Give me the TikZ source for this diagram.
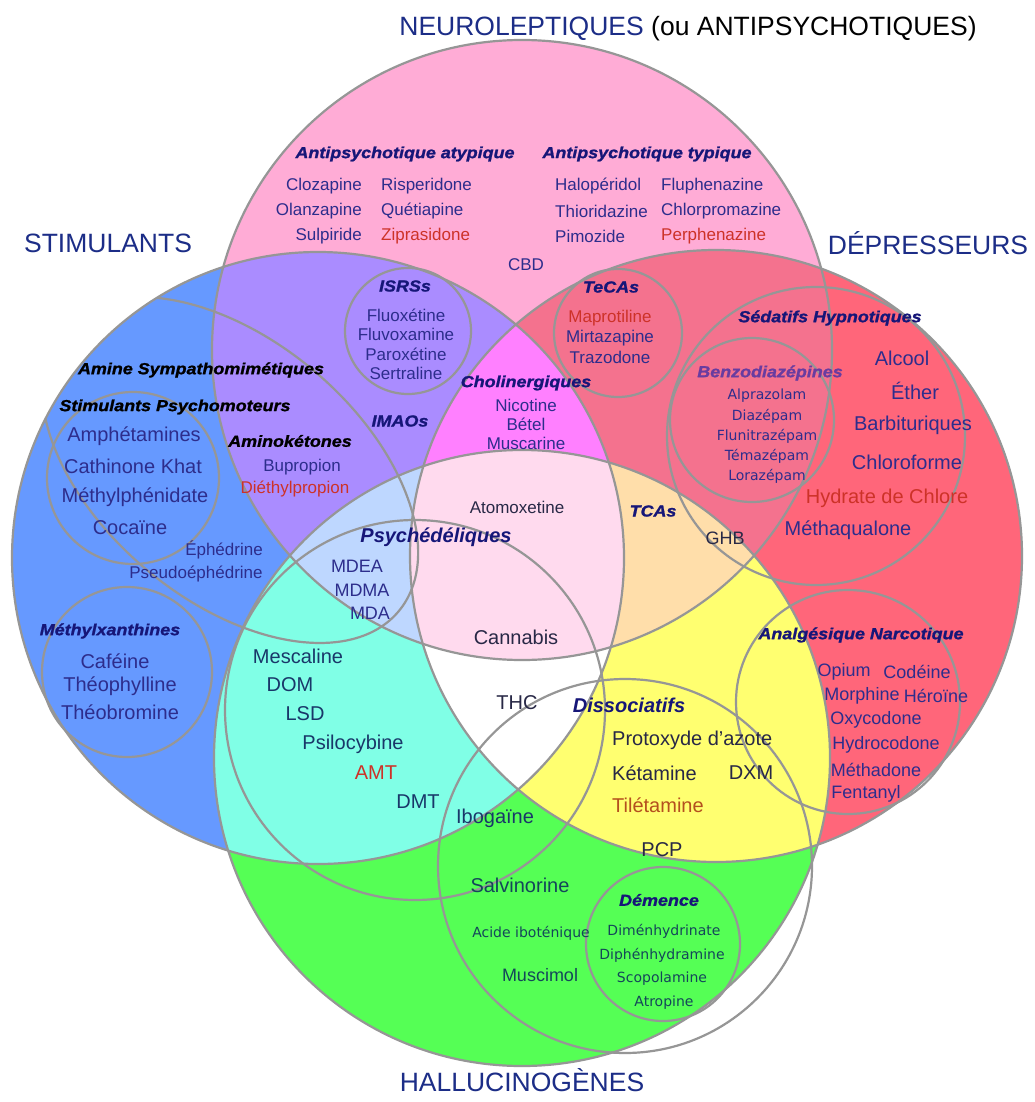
\documentclass[tikz,border=0pt]{standalone}
\usepackage{fontspec}
\setmainfont{Liberation Sans}
\newfontfamily\dvs{DejaVu Sans}
\newfontfamily\hdf[FakeStretch=1.12,FakeBold=1.2]{Liberation Sans}
\definecolor{cPk}{RGB}{255,172,214}
\definecolor{cBl}{RGB}{102,153,255}
\definecolor{cRd}{RGB}{255,102,122}
\definecolor{cGr}{RGB}{85,255,85}
\definecolor{cPB}{RGB}{170,140,255}
\definecolor{cPR}{RGB}{244,114,142}
\definecolor{cPG}{RGB}{255,218,238}
\definecolor{cBR}{RGB}{255,255,255}
\definecolor{cBG}{RGB}{128,255,230}
\definecolor{cRG}{RGB}{255,255,112}
\definecolor{cPBR}{RGB}{255,128,255}
\definecolor{cPBG}{RGB}{190,215,255}
\definecolor{cPRG}{RGB}{255,222,170}
\definecolor{cBRG}{RGB}{255,255,255}
\definecolor{cAll}{RGB}{255,218,238}
\definecolor{lnc}{RGB}{150,150,150}
\definecolor{ttl}{RGB}{28,45,135}
\definecolor{itc}{RGB}{45,45,140}
\definecolor{hdc}{RGB}{22,22,120}
\definecolor{rdc}{RGB}{205,50,40}
\definecolor{dkc}{RGB}{40,40,70}
\definecolor{tlc}{RGB}{25,55,105}
\definecolor{gnc}{RGB}{20,70,90}
\definecolor{prc}{RGB}{105,60,160}
\definecolor{orc}{RGB}{180,80,30}
\newcommand\cirP{(522,350) circle[radius=310pt]}
\newcommand\cirB{(318,558) circle[radius=306pt]}
\newcommand\cirR{(716,556) circle[radius=306pt]}
\newcommand\cirG{(522,758) circle[radius=308pt]}
\begin{document}
\begin{tikzpicture}[x=1pt,y=-1pt,
  ln/.style={draw=lnc,line width=2.2pt},
  ttlbox/.style={font=\fontsize{26.5}{28}\selectfont,text=ttl,inner sep=0pt},
  hd/.style={font=\hdf\fontsize{16}{18}\selectfont\bfseries\itshape,text=hdc,inner sep=0pt},
  bighd/.style={font=\fontsize{20}{22}\selectfont\bfseries\itshape,text=hdc,inner sep=0pt},
  it/.style={font=\fontsize{17}{18}\selectfont,text=itc,inner sep=0pt},
  itm/.style={font=\fontsize{18}{20}\selectfont,text=itc,inner sep=0pt},
  itl/.style={font=\fontsize{20}{22}\selectfont,text=itc,inner sep=0pt},
  dv/.style={font=\dvs\fontsize{14}{16}\selectfont,text=itc,inner sep=0pt},
]
\useasboundingbox (0,0) rectangle (1034,1102);
\fill[white] (0,0) rectangle (1034,1102);
% single fills
\fill[cPk] \cirP; \fill[cBl] \cirB; \fill[cRd] \cirR; \fill[cGr] \cirG;
% pairs
\begin{scope}\clip \cirP; \fill[cPB] \cirB; \fill[cPR] \cirR; \fill[cPG] \cirG; \end{scope}
\begin{scope}\clip \cirB; \fill[cBR] \cirR; \fill[cBG] \cirG; \end{scope}
\begin{scope}\clip \cirR; \fill[cRG] \cirG; \end{scope}
% triples
\begin{scope}\clip \cirP; \clip \cirB; \fill[cPBR] \cirR; \fill[cPBG] \cirG; \end{scope}
\begin{scope}\clip \cirP; \clip \cirR; \fill[cPRG] \cirG; \end{scope}
\begin{scope}\clip \cirB; \clip \cirR; \fill[cBRG] \cirG; \end{scope}
% all four
\begin{scope}\clip \cirP; \clip \cirB; \clip \cirR; \fill[cAll] \cirG; \end{scope}
% outlines of the four classes
\draw[ln] \cirP; \draw[ln] \cirB; \draw[ln] \cirR; \draw[ln] \cirG;
% sub-class circles
\draw[ln] (408,331) circle[radius=63pt];   % ISRSs
\draw[ln] (618,333) circle[radius=64pt];   % TeCAs
\draw[ln] (816,436) circle[radius=149pt];  % sedatifs
\draw[ln] (752,420) circle[radius=82pt];   % benzo
\draw[ln] (133,478) circle[radius=86pt];   % psychomoteurs
\draw[ln] (127,672) circle[radius=85pt];   % methylxanthines
\begin{scope}
  \clip \cirB;
  \begin{scope}[rotate around={-40:(230,470)}]
    \draw[ln] (230,470) ellipse[x radius=220pt, y radius=130pt]; % amines
  \end{scope}
\end{scope}
\draw[ln] (415,710) circle[radius=190pt];  % psychedeliques
\draw[ln] (625,866) circle[radius=187pt];  % dissociatifs
\draw[ln] (848,702) circle[radius=112pt];  % analgesiques
\draw[ln] (663,944) circle[radius=77pt];   % demence
% titles
\node[ttlbox] (tN) at (688,29) {NEUROLEPTIQUES {\color{black}(ou ANTIPSYCHOTIQUES)}};
\node[ttlbox] (tS) at (108,243) {STIMULANTS};
\node[ttlbox] (tD) at (928,243) {DÉPRESSEURS};
\node[ttlbox] (tH) at (522,1080) {HALLUCINOGÈNES};
% headers
\node[hd] (hAa) at (405,154) {Antipsychotique atypique};
\node[hd] (hAt) at (647,154) {Antipsychotique typique};
\node[hd] (hIS) at (405,286) {ISRSs};
\node[hd] (hTe) at (611,287) {TeCAs};
\node[hd] (hSe) at (830,318) {Sédatifs Hypnotiques};
\node[hd,text=prc] (hBz) at (770,373) {Benzodiazépines};
\node[hd,text=black] (hAm) at (201,370) {Amine Sympathomimétiques};
\node[hd,text=black] (hSP) at (175,407) {Stimulants Psychomoteurs};
\node[hd,text=black] (hAk) at (290,441) {Aminokétones};
\node[hd] (hIM) at (400,421) {IMAOs};
\node[hd] (hCh) at (526,383) {Cholinergiques};
\node[hd] (hTC) at (653,511) {TCAs};
\node[hd] (hMx) at (110,631) {Méthylxanthines};
\node[hd] (hAn) at (861,635) {Analgésique Narcotique};
\node[hd] (hDe) at (659,900) {Démence};
\node[bighd] (hPs) at (436,537) {Psychédéliques};
\node[bighd] (hDi) at (629,705) {Dissociatifs};
% neuroleptiques
\node[it,anchor=east] (a1) at (362,186) {Clozapine};
\node[it,anchor=east] (a2) at (362,211) {Olanzapine};
\node[it,anchor=east] (a3) at (362,236) {Sulpiride};
\node[it,anchor=west] (a4) at (381,186) {Risperidone};
\node[it,anchor=west] (a5) at (381,211) {Quétiapine};
\node[it,anchor=west,text=rdc] (a6) at (381,236) {Ziprasidone};
\node[it,anchor=west] (b1) at (555,186) {Halopéridol};
\node[it,anchor=west] (b2) at (555,211) {Thioridazine};
\node[it,anchor=west] (b3) at (555,236) {Pimozide};
\node[it,anchor=west] (b4) at (661,186) {Fluphenazine};
\node[it,anchor=west] (b5) at (661,211) {Chlorpromazine};
\node[it,anchor=west,text=rdc] (b6) at (661,236) {Perphenazine};
\node[it] (cbd) at (526,265) {CBD};
% ISRS
\node[it] (i1) at (406,315) {Fluoxétine};
\node[it] (i2) at (406,334) {Fluvoxamine};
\node[it] (i3) at (406,354) {Paroxétine};
\node[it] (i4) at (406,373) {Sertraline};
% TeCA
\node[it,text=rdc] (e1) at (610,318) {Maprotiline};
\node[it] (e2) at (610,338) {Mirtazapine};
\node[it] (e3) at (610,357) {Trazodone};
% cholinergiques
\node[it] (c1) at (526,405) {Nicotine};
\node[it] (c2) at (526,424) {Bétel};
\node[it] (c3) at (526,443) {Muscarine};
% stimulants
\node[itl] (s1) at (134,436) {Amphétamines};
\node[itl] (s2) at (133,466) {Cathinone Khat};
\node[itl] (s3) at (135,497) {Méthylphénidate};
\node[itl] (s4) at (130,528) {Cocaïne};
\node[it] (k1) at (302,467) {Bupropion};
\node[it,text=rdc] (k2) at (295,489) {Diéthylpropion};
\node[it] (s5) at (224,550) {Éphédrine};
\node[it] (s6) at (196,574) {Pseudoéphédrine};
\node[itl] (m1) at (115,661) {Caféine};
\node[itl] (m2) at (120,686) {Théophylline};
\node[itl] (m3) at (120,712) {Théobromine};
% psychedeliques
\node[itm] (p1) at (357,566) {MDEA};
\node[itm] (p2) at (362,590) {MDMA};
\node[itm] (p3) at (370,613) {MDA};
\node[it,text=dkc] (x1) at (517,507) {Atomoxetine};
\node[itl,text=dkc] (x2) at (516,637) {Cannabis};
\node[itl,text=tlc] (p4) at (298,656) {Mescaline};
\node[itl,text=tlc] (p5) at (290,685) {DOM};
\node[itl,text=tlc] (p6) at (305,714) {LSD};
\node[itl,text=tlc] (p7) at (353,744) {Psilocybine};
\node[itl,text=rdc] (p8) at (376,773) {AMT};
\node[itl,text=tlc] (p9) at (418,802) {DMT};
\node[itl,text=dkc] (thc) at (517,703) {THC};
\node[itm,text=dkc] (ghb) at (725,538) {GHB};
% sedatifs
\node[itl] (d1) at (902,358) {Alcool};
\node[itl] (d2) at (915,391) {Éther};
\node[itl] (d3) at (913,425) {Barbituriques};
\node[itl] (d4) at (907,462) {Chloroforme};
\node[itl,text=rdc] (d5) at (887,498) {Hydrate de Chlore};
\node[itl] (d6) at (848,530) {Méthaqualone};
\node[dv] (z1) at (767,396) {Alprazolam};
\node[dv] (z2) at (767,416) {Diazépam};
\node[dv] (z3) at (767,436) {Flunitrazépam};
\node[dv] (z4) at (767,456) {Témazépam};
\node[dv] (z5) at (767,476) {Lorazépam};
% analgesiques
\node[itm] (n1) at (844,672) {Opium};
\node[itm] (n2) at (917,672) {Codéine};
\node[itm] (n3) at (862,696) {Morphine};
\node[itm] (n4) at (936,696) {Héroïne};
\node[itm] (n5) at (876,720) {Oxycodone};
\node[itm] (n6) at (886,745) {Hydrocodone};
\node[itm] (n7) at (876,770) {Méthadone};
\node[itm] (n8) at (866,794) {Fentanyl};
% dissociatifs
\node[itl,text=dkc,anchor=west] (q1) at (612,740) {Protoxyde d'azote};
\node[itl,text=dkc,anchor=west] (q2) at (612,773) {Kétamine};
\node[itl,text=dkc] (q3) at (751,773) {DXM};
\node[itl,text=orc,anchor=west] (q4) at (612,805) {Tilétamine};
\node[itl,text=dkc] (q5) at (662,850) {PCP};
% autres hallucinogenes
\node[itl,text=tlc] (g1) at (495,818) {Ibogaïne};
\node[itl,text=gnc] (g2) at (520,885) {Salvinorine};
\node[dv,text=gnc] (g3) at (531,933) {Acide iboténique};
\node[itm,text=gnc] (g4) at (540,975) {Muscimol};
\node[dv,text=gnc] (y1) at (664,931) {Diménhydrinate};
\node[dv,text=gnc] (y2) at (662,955) {Diphénhydramine};
\node[dv,text=gnc] (y3) at (662,979) {Scopolamine};
\node[dv,text=gnc] (y4) at (664,1003) {Atropine};
\end{tikzpicture}
\end{document}
